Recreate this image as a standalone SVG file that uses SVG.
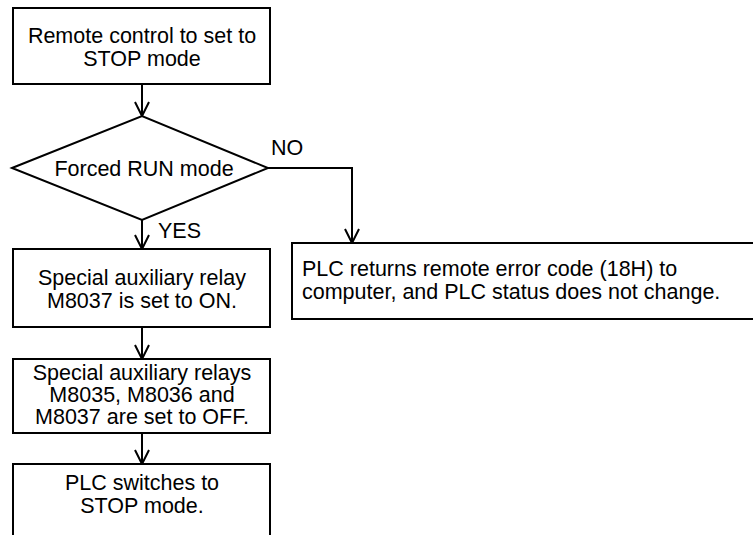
<svg xmlns="http://www.w3.org/2000/svg" width="753" height="535" viewBox="0 0 753 535">
  <defs>
    <style>
      .box { fill: #ffffff; stroke: #000000; stroke-width: 2; }
      .line { fill: none; stroke: #000000; stroke-width: 2; }
      text { font-family: "Liberation Sans", Arial, sans-serif; font-size: 21.5px; fill: #000000; }
      .c { text-anchor: middle; }
    </style>
    <marker id="arrow" markerUnits="userSpaceOnUse" markerWidth="20" markerHeight="20" viewBox="-16 -10 20 20" refX="0" refY="0" orient="auto" overflow="visible">
      <path d="M-14,-7 L0,0 L-14,7" fill="none" stroke="#000000" stroke-width="2"/>
    </marker>
  </defs>
  <rect x="0" y="0" width="753" height="535" fill="#ffffff"/>

  <g id="connectors">
    <line class="line" x1="142" y1="84" x2="142" y2="116" marker-end="url(#arrow)"/>
    <polyline class="line" points="268,168 352,168 352,243" marker-end="url(#arrow)"/>
    <line class="line" x1="142" y1="220" x2="142" y2="249" marker-end="url(#arrow)"/>
    <line class="line" x1="142" y1="327" x2="142" y2="359" marker-end="url(#arrow)"/>
    <line class="line" x1="142" y1="433" x2="142" y2="464" marker-end="url(#arrow)"/>
    <text x="271" y="155">NO</text>
    <text x="158" y="238">YES</text>
  </g>

  <g id="start">
    <rect class="box" x="13" y="8" width="257" height="76"/>
    <text class="c" x="142" y="43">Remote control to set to</text>
    <text class="c" x="142" y="66">STOP mode</text>
  </g>

  <g id="decision">
    <polygon class="box" points="12,168 142,116 268,168 142,220"/>
    <text class="c" x="144" y="176">Forced RUN mode</text>
  </g>

  <g id="set-on">
    <rect class="box" x="13" y="249" width="257" height="78"/>
    <text class="c" x="142" y="285">Special auxiliary relay</text>
    <text class="c" x="142" y="308">M8037 is set to ON.</text>
  </g>

  <g id="error">
    <rect class="box" x="292" y="243" width="480" height="76"/>
    <text x="302" y="276">PLC returns remote error code (18H) to</text>
    <text x="302" y="299">computer, and PLC status does not change.</text>
  </g>

  <g id="set-off">
    <rect class="box" x="13" y="359" width="257" height="74"/>
    <text class="c" x="142" y="380">Special auxiliary relays</text>
    <text class="c" x="142" y="402">M8035, M8036 and</text>
    <text class="c" x="142" y="424">M8037 are set to OFF.</text>
  </g>

  <g id="stop">
    <rect class="box" x="13" y="464" width="257" height="80"/>
    <text class="c" x="142" y="490">PLC switches to</text>
    <text class="c" x="142" y="513">STOP mode.</text>
  </g>
</svg>
